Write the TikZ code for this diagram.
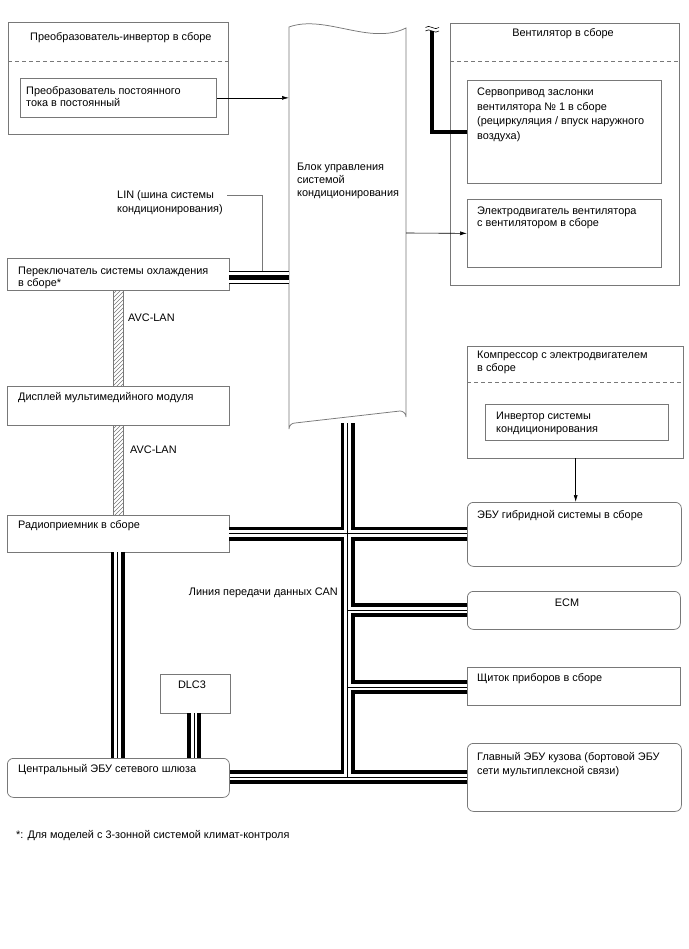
\documentclass[tikz,border=0pt]{standalone}
\usepackage{fontspec}
\setmainfont{Liberation Sans}
\usetikzlibrary{arrows.meta}
\definecolor{boxc}{RGB}{120,120,120}
\newcommand\st{\rule{0pt}{9.3pt}}
\begin{document}
\begin{tikzpicture}[x=1pt,y=-1pt,
  bx/.style={draw=boxc, line width=0.75pt, anchor=north west, inner sep=0, fill=white},
  rbx/.style={bx, rounded corners=6pt},
  dsh/.style={draw=boxc, line width=0.7pt, dash pattern=on 4pt off 3pt},
  txt/.style={anchor=north west, inner sep=0, align=left, font=\fontsize{10.9}{13}\selectfont},
  arr/.style={line width=0.6pt, -{Latex[length=7pt,width=4pt]}},
  canA/.style={line width=14pt, black},
  canB/.style={line width=6.5pt, white},
  canC/.style={line width=1pt, black},
  hatch/.style={draw=boxc, line width=0.5pt},
  thin/.style={draw=boxc, line width=0.75pt}]
\useasboundingbox (0,0) rectangle (688,949);

% ---------- boxes ----------
\node[bx, minimum width=220pt, minimum height=112pt] (inv) at (8,22) {};
\draw[dsh] (8,61) -- (228,61);
\node[bx, minimum width=196pt, minimum height=39pt] (dcdc) at (20,78) {};

\node[anchor=north west, inner sep=0, minimum width=117pt, minimum height=396pt] (acu) at (289,27) {};
\draw[thin, fill=white] (289,27) .. controls (325,14) and (370,46) .. (406,28)
  -- (406,417) arc[start angle=0, end angle=90, radius=6pt] -- (295,423)
  arc[start angle=90, end angle=180, radius=6pt] -- cycle;

\node[bx, minimum width=229pt, minimum height=262pt] (fan) at (450,23) {};
\draw[dsh] (450,61) -- (679,61);
\node[bx, minimum width=194pt, minimum height=103pt] (servo) at (467,80) {};
\node[bx, minimum width=194pt, minimum height=68pt] (blower) at (467,199) {};

\node[bx, minimum width=222pt, minimum height=32pt] (cool) at (7,258) {};
\node[bx, minimum width=222pt, minimum height=39pt] (disp) at (7,386) {};
\node[bx, minimum width=222pt, minimum height=37pt] (radio) at (7,515) {};
\node[bx, minimum width=70pt, minimum height=39pt] (dlc) at (160,674) {};

\node[bx, minimum width=216pt, minimum height=112pt] (comp) at (467,346) {};
\draw[dsh] (467,382) -- (683,382);
\node[bx, minimum width=183pt, minimum height=36pt] (acinv) at (485,404) {};

% ---------- CAN / LIN cables (layered) ----------
\coordinate (busT) at (347.5,423);
\coordinate (busB) at (347.5,777);
\foreach \s in {canA,canB,canC}{
  \draw[\s] (busT) -- (busB);
  \draw[\s] (229,533.5) -- (467,533.5);
  \draw[\s] (347.5,610) -- (467,610);
  \draw[\s] (347.5,687) -- (467,687);
  \draw[\s] (229,777) -- (467,777);
  \draw[\s] (117.5,552) -- (117.5,758);
  \draw[\s] (194,713) -- (194,758);
}
% LIN cable from switch
\draw[line width=13pt, black] (229,277.3) -- (289,277.3);
\draw[line width=11pt, white] (229,277.3) -- (289,277.3);
\draw[line width=4.5pt, black] (229,277.3) -- (289,277.3);

% ---------- boxes touched by cables ----------
\node[rbx, minimum width=222pt, minimum height=39pt] (gw) at (7,758) {};
\node[rbx, minimum width=214pt, minimum height=64pt] (hv) at (467,502) {};
\node[rbx, minimum width=213pt, minimum height=38pt] (ecm) at (467,591) {};
\node[bx, minimum width=213pt, minimum height=38pt] (meter) at (467,667) {};
\node[rbx, minimum width=214pt, minimum height=68pt] (body) at (467,743) {};

% ---------- hatched AVC-LAN bars ----------
\begin{scope}
\clip (113,290) rectangle (123,386);
\foreach \i in {0,4,...,112} \draw[hatch] (112,291+\i) -- (124,279+\i);
\end{scope}
\draw[thin] (113,290) -- (113,386) (123,290) -- (123,386);
\begin{scope}
\clip (113,425) rectangle (123,515);
\foreach \i in {0,4,...,104} \draw[hatch] (112,426+\i) -- (124,414+\i);
\end{scope}
\draw[thin] (113,425) -- (113,515) (123,425) -- (123,515);

% ---------- other connectors ----------
\draw[arr] (dcdc.east) -- (dcdc.east -| acu.west);
\draw[arr] (406,233) -- (blower.west);
\draw[arr] (575.7,458) -- (575.7,502);
\coordinate (brk) at (432,31);
\draw[line width=4pt, black, line join=miter] (brk) -- (432,131.7) -- (467,131.7);
\draw[line width=0.6pt, black] (425.5,27.5) .. controls (429,23.5) and (435,31.5) .. (439,27.5);
\draw[line width=0.6pt, black] (425.5,31) .. controls (429,27) and (435,35) .. (439,31);
\coordinate (linS) at (227,195.7);
\draw[thin] (linS) -- (262,195.7) -- (262,271);

% ---------- texts ----------
\node[txt] (t1) at (30,31.2) {\st Преобразователь-инвертор в сборе};
\node[txt, font=\fontsize{10.9}{11.5}\selectfont] (t2) at (26,85.4) {\st Преобразователь постоянного\\тока в постоянный};
\node[txt] (t3) at (297,161.3) {\st Блок управления\\системой\\кондиционирования};
\node[txt, anchor=north] (t4) at (563,27.3) {\st Вентилятор в сборе};
\node[txt, font=\fontsize{10.9}{14.5}\selectfont] (t5) at (477,86.3) {\st Сервопривод заслонки\\вентилятора № 1 в сборе\\(рециркуляция / впуск наружного\\воздуха)};
\node[txt, font=\fontsize{10.9}{12}\selectfont] (t6) at (477,205.3) {\st Электродвигатель вентилятора\\с вентилятором в сборе};
\node[txt, font=\fontsize{10.9}{14}\selectfont] (t7) at (117,189.3) {\st LIN (шина системы\\кондиционирования)};
\node[txt, font=\fontsize{10.9}{12}\selectfont] (t8) at (18,264.8) {\st Переключатель системы охлаждения\\в сборе*};
\node[txt] (t9) at (128,312.3) {\st AVC-LAN};
\node[txt] (t10) at (18,390.8) {\st Дисплей мультимедийного модуля};
\node[txt] (t11) at (130,443.8) {\st AVC-LAN};
\node[txt] (t12) at (18,519.3) {\st Радиоприемник в сборе};
\node[txt, anchor=north east] (t13) at (338,586.3) {\st Линия передачи данных CAN};
\node[txt, anchor=north] (t14) at (192,679.3) {\st DLC3};
\node[txt] (t15) at (18,763.3) {\st Центральный ЭБУ сетевого шлюза};
\node[txt, font=\fontsize{10.9}{12.5}\selectfont] (t16) at (477,349.3) {\st Компрессор с электродвигателем\\в сборе};
\node[txt] (t17) at (496,410.3) {\st Инвертор системы\\кондиционирования};
\node[txt] (t18) at (477,509.3) {\st ЭБУ гибридной системы в сборе};
\node[txt, anchor=north] (t19) at (567,597.3) {\st ECM};
\node[txt] (t20) at (477,671.8) {\st Щиток приборов в сборе};
\node[txt, font=\fontsize{10.9}{14}\selectfont] (t21) at (477,750.8) {\st Главный ЭБУ кузова (бортовой ЭБУ\\сети мультиплексной связи)};
\node[txt] (t22) at (16,828.8) {\st *: Для моделей с 3-зонной системой климат-контроля};
\end{tikzpicture}
\end{document}
